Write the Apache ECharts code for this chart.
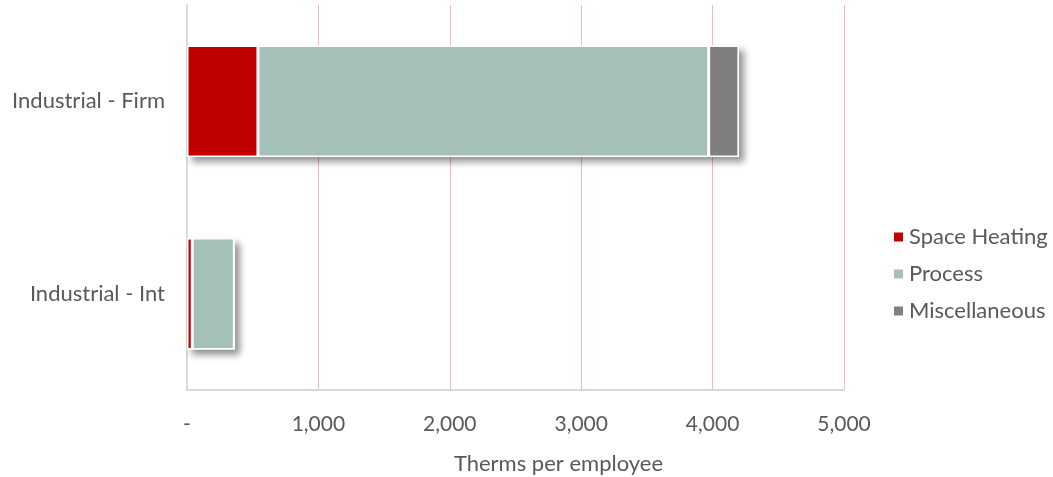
<!DOCTYPE html>
<html><head><meta charset="utf-8">
<script src="https://cdn.jsdelivr.net/npm/echarts@6/dist/echarts.min.js"></script>
<style>html,body{margin:0;padding:0;background:#fff}#c{width:1053px;height:477px}</style>
</head><body><div id="c"></div>
<script>
const categories = ['Industrial - Int', 'Industrial - Firm'];
const seriesNames = ['Space Heating', 'Process', 'Miscellaneous'];
const spaceHeating = [40, 540];
const process = [320, 3430];
const miscellaneous = [0, 230];
const xTicks = [0, 1000, 2000, 3000, 4000, 5000];

const colors = ['#C00000', '#A5C0B8', '#7F7F7F'];
const font = 'Lato, "Open Sans", sans-serif';
const values = [spaceHeating, process, miscellaneous];
const totals = categories.map((c, j) => values.reduce((s, arr) => s + arr[j], 0));
const chart = echarts.init(document.getElementById('c'));
const segs = seriesNames.map((n, i) => ({
  name: n, type: 'bar', stack: 'total', barWidth: '58%', z: 3,
  data: values[i],
  itemStyle: { color: colors[i], borderColor: '#fff', borderWidth: 1.5 }
}));
segs.push({
  name: 'shadow', type: 'bar', barWidth: '58%', barGap: '-100%', z: 2, silent: true,
  data: totals,
  itemStyle: { color: '#fff', borderColor: '#fff', borderWidth: 1.5,
    shadowBlur: 7, shadowOffsetX: 5, shadowOffsetY: 5, shadowColor: 'rgba(0,0,0,0.45)' }
});
chart.setOption({
  animation: false,
  textStyle: { fontFamily: font },
  grid: { left: 187, right: 209, top: 5, bottom: 87, containLabel: false, outerBoundsMode: 'none' },
  legend: {
    orient: 'vertical', left: 887, top: 221, itemGap: 15,
    itemWidth: 11, itemHeight: 11, icon: 'rect',
    textStyle: { fontSize: 22, color: '#595959', fontFamily: font },
    data: seriesNames
  },
  xAxis: {
    type: 'value', min: xTicks[0], max: xTicks[xTicks.length - 1], interval: 1000,
    axisLine: { show: true, lineStyle: { color: '#D9D9D9', width: 2 } },
    axisTick: { show: false },
    splitLine: { lineStyle: { color: '#F4B8B8', width: 1 } },
    axisLabel: { fontSize: 21, color: '#595959', margin: 24,
      formatter: v => v === 0 ? '-' : v.toLocaleString('en-US') },
    name: 'Therms per employee', nameLocation: 'middle', nameGap: 63,
    nameTextStyle: { fontSize: 22, color: '#595959', padding: [0, 0, 0, 86] }
  },
  yAxis: {
    type: 'category', data: categories,
    axisLine: { lineStyle: { color: '#D9D9D9', width: 2 } },
    axisTick: { show: false },
    axisLabel: { fontSize: 22, color: '#595959', margin: 22 }
  },
  series: segs
});
</script></body></html>
